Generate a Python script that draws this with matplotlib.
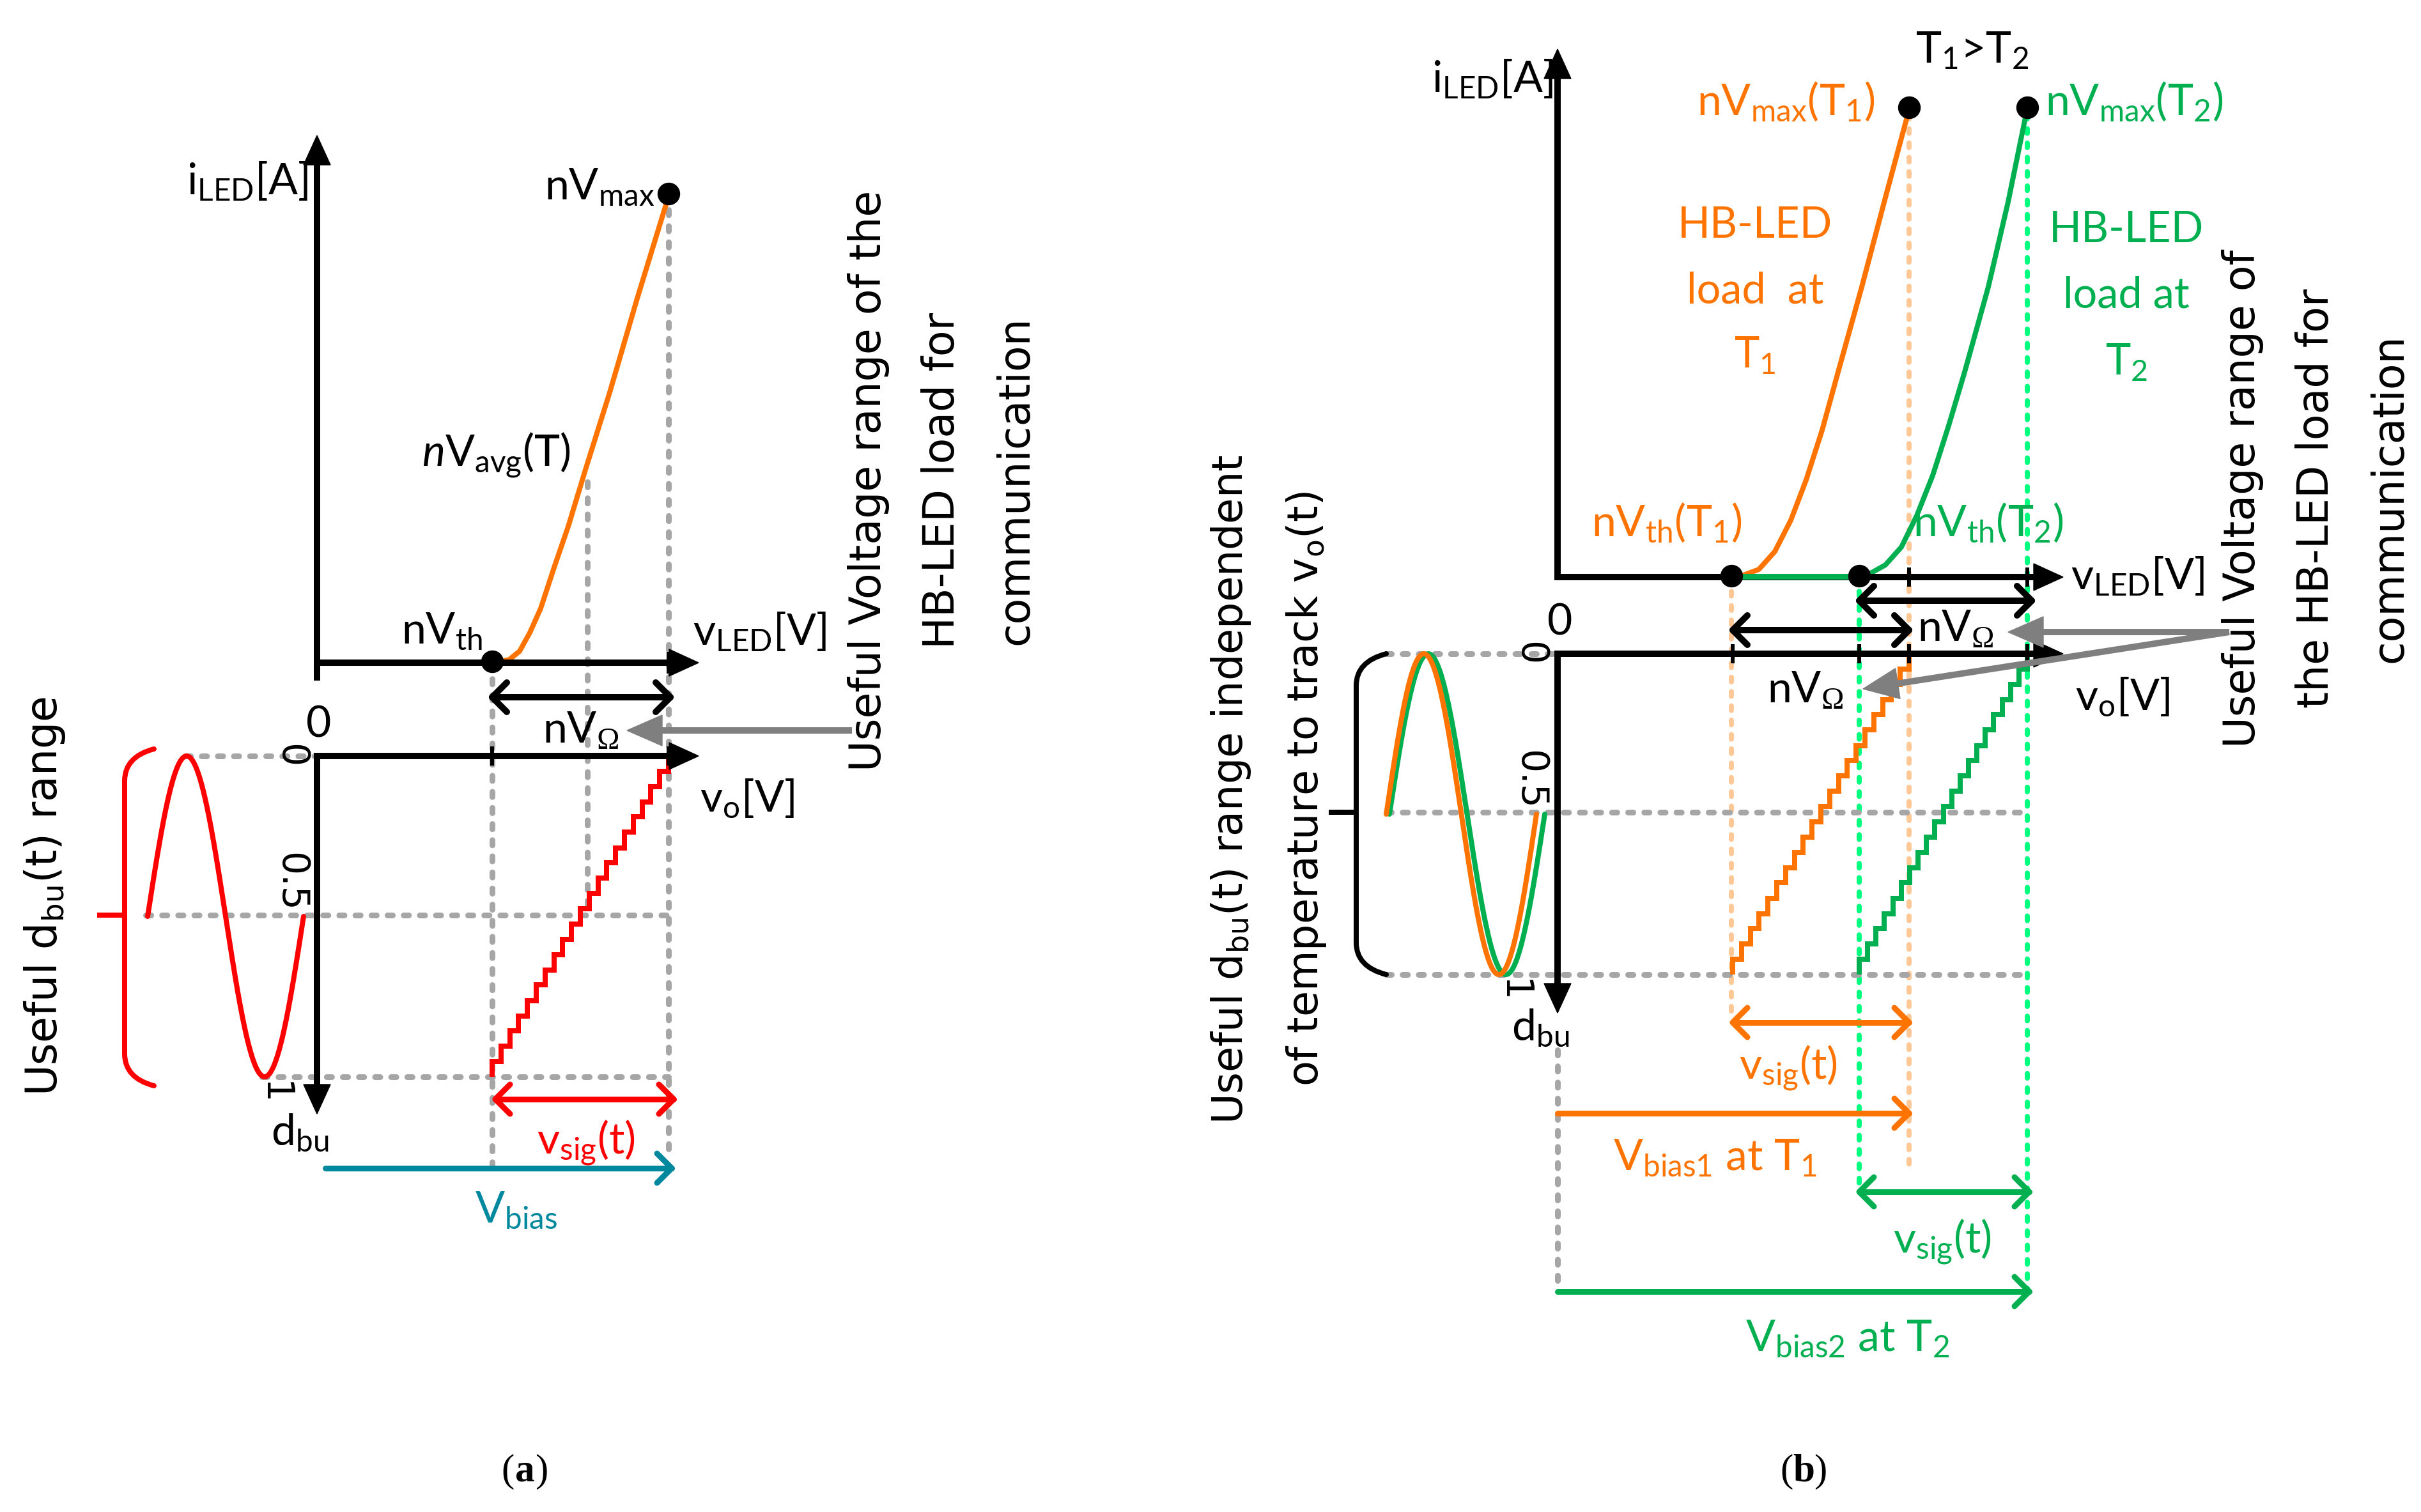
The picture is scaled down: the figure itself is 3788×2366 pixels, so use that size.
import numpy as np
import matplotlib
matplotlib.use("Agg")
import matplotlib.pyplot as plt
from matplotlib.path import Path
from matplotlib.patches import PathPatch, Polygon

plt.rcParams['mathtext.fontset'] = 'custom'
plt.rcParams['mathtext.rm'] = 'Lato'
plt.rcParams['mathtext.it'] = 'Lato:italic'
plt.rcParams['mathtext.bf'] = 'Lato:bold'
plt.rcParams['mathtext.sf'] = 'Liberation Serif'
plt.rcParams['mathtext.fallback'] = 'cm'

# ---------------- data (canvas pixel space 3788 x 2366) ----------------
# LED I-V characteristic, panel (a)
led_a_v = [770, 785, 797, 813, 829, 846, 867, 889, 916, 954, 997, 1043, 1046]
led_a_i = [1036, 1035, 1032, 1019, 990, 952, 888, 824, 735, 614, 467, 317, 303]
# LED I-V characteristics, panel (b)
led_t1_v = [2709, 2728, 2752, 2777, 2802, 2826, 2851, 2876, 2913, 2950, 2985, 2987]
led_t1_i = [901, 900, 891, 863, 814, 751, 673, 582, 449, 309, 179, 168]
led_t2_v = [2909, 2925, 2950, 2975, 2999, 3024, 3049, 3074, 3111, 3142, 3170, 3172]
led_t2_i = [901, 898, 884, 856, 807, 744, 666, 582, 449, 316, 179, 168]

# quantised duty-cycle staircase (dbu levels, 21 steps) and vo fractions
stair_dbu = [1.00, 0.952, 0.905, 0.857, 0.810, 0.762, 0.714, 0.667, 0.619, 0.571,
             0.524, 0.476, 0.429, 0.381, 0.333, 0.286, 0.238, 0.190, 0.143, 0.095,
             0.048, 0.00]
stair_vo = [0.00, 0.05, 0.10, 0.15, 0.20, 0.25, 0.30, 0.35, 0.40, 0.45, 0.50,
            0.55, 0.60, 0.65, 0.70, 0.75, 0.80, 0.85, 0.90, 0.95, 1.00]

dbu_ticks = [0, 0.5, 1]
dbu_tick_labels = ['0', '0.5', '1']

ORANGE = '#FF7300'
GREEN = '#00B050'
LGREEN = '#00FF7F'
LORANGE = '#FFC896'
GRAY = '#A6A6A6'
DGRAY = '#7F7F7F'
RED = '#FF0000'
TEAL = '#00889E'

PT = 0.72
DASH = (0, (0.9, 1.9))
LS = 49  # label font size
OMEGA = r'nV$_{\mathsf{\Omega}}$'

fig = plt.figure(figsize=(37.88, 23.66), dpi=100)
ax = fig.add_axes([0, 0, 1, 1])
ax.set_xlim(0, 3788)
ax.set_ylim(2366, 0)
ax.axis('off')


def seg(xs, ys, color, w=8, z=2, cap='round'):
    ax.plot(xs, ys, color=color, lw=w * PT, solid_capstyle=cap,
            solid_joinstyle='round', zorder=z)


def dashed(xs, ys, color=GRAY, w=9, z=1):
    ax.plot(xs, ys, color=color, lw=w * PT, ls=DASH, dash_capstyle='round', zorder=z)


def axis_arrow(x0, y0, x1, y1, color='black', w=10, L=46, W=21, z=3):
    d = np.array([x1 - x0, y1 - y0], float)
    d /= np.hypot(*d)
    n = np.array([-d[1], d[0]])
    tip = np.array([x1, y1], float)
    base = tip - L * d
    e = base + 0.3 * L * d
    seg([x0, e[0]], [y0, e[1]], color, w, z=z, cap='projecting')
    ax.add_patch(Polygon([tip, base + W * n, base - W * n], closed=True,
                         fc=color, ec=color, lw=1, zorder=z))


def chevron(x, y, dx, dy, color, w=9, a=23):
    d = np.array([dx, dy], float)
    d /= np.hypot(*d)
    n = np.array([-d[1], d[0]])
    p = np.array([x, y], float)
    p1 = p - a * d + a * n
    p2 = p - a * d - a * n
    ax.plot([p1[0], x, p2[0]], [p1[1], y, p2[1]], color=color, lw=w * PT,
            solid_capstyle='round', solid_joinstyle='round', zorder=4)


def harrow(x0, x1, y, color, both=True, w=9):
    seg([x0, x1], [y, y], color, w, z=4)
    chevron(x1, y, 1, 0, color, w)
    if both:
        chevron(x0, y, -1, 0, color, w)


def gray_arrow(x0, y0, x1, y1, w=10, L=55, W=24):
    d = np.array([x1 - x0, y1 - y0], float)
    d /= np.hypot(*d)
    n = np.array([-d[1], d[0]])
    tip = np.array([x1, y1], float)
    base = tip - L * d
    seg([x0, base[0] + 5 * d[0]], [y0, base[1] + 5 * d[1]], DGRAY, w, z=4, cap='butt')
    ax.add_patch(Polygon([tip, base + W * n, base - W * n], closed=True,
                         fc=DGRAY, ec=DGRAY, lw=1, zorder=4))


def dot(x, y):
    ax.plot([x], [y], 'o', color='black', ms=34 * PT, zorder=5)


def label(x, y, s, color='black', size=LS, ha='left', va='baseline', family='Lato', **kw):
    ax.text(x, y, s, color=color, fontsize=size, ha=ha, va=va, family=family,
            zorder=6, **kw)


def rot_text(x, y, s, size=48, ls=2.0):
    ax.text(x, y, s, rotation=90, ha='center', va='center', multialignment='center',
            fontsize=size, family='DejaVu Sans', linespacing=ls,
            math_fontfamily='dejavusans', zorder=6)


def ydbu(v, y0, y1):
    return y0 + np.asarray(v, float) * (y1 - y0)


def staircase(xa, xb, y0, y1, color, w=8):
    xs = [xa + f * (xb - xa) for f in stair_vo]
    ys = list(ydbu(stair_dbu, y0, y1))
    px, py = [xs[0]], [ys[0]]
    for i in range(1, len(ys)):
        px.append(xs[i - 1]); py.append(ys[i])
        if i < len(xs):
            px.append(xs[i]); py.append(ys[i])
    ax.plot(px, py, color=color, lw=w * PT, solid_joinstyle='miter',
            solid_capstyle='butt', zorder=2)


def sine(xa, xb, y0, y1, color, w=8):
    ph = np.linspace(0, 2 * np.pi, 300)
    dbu = 0.5 - 0.5 * np.sin(ph)
    xs = xa + (xb - xa) * ph / (2 * np.pi)
    seg(xs, ydbu(dbu, y0, y1), color, w, z=2)


def bracket(x, xe, ytop, ybot, ymid, color, w=8, tick=43):
    r = 50
    verts = [(xe, ytop), (x, ytop + 12), (x, ytop + r), (x, ybot - r), (x, ybot - 12), (xe, ybot)]
    codes = [Path.MOVETO, Path.CURVE3, Path.CURVE3, Path.LINETO, Path.CURVE3, Path.CURVE3]
    ax.add_patch(PathPatch(Path(verts, codes), fc='none', ec=color, lw=w * PT,
                           capstyle='round', zorder=2))
    seg([x - tick, x], [ymid, ymid], color, w, z=2, cap='butt')


def tick_labels(x, y0, y1):
    for v, t in zip(dbu_ticks, dbu_tick_labels):
        yy = ydbu(v, y0, y1)
        if t == '0.5':
            yy = yy - 54
        if t == '1':
            x2 = x - 27
            yy = yy + 26
        else:
            x2 = x
        ax.text(x2, yy, t, rotation=-90, ha='center', va='center', fontsize=42,
                family='DejaVu Sans', zorder=6)


# ======================= panel (a) =======================
A_Y0, A_Y1 = 1183, 1685
dashed([1046, 1046], [303, 1810])
dashed([770, 770], [1037, 1823])
dashed([919, 919], [754, 1432])
dashed([290, 496], [A_Y0, A_Y0])
dashed([228, 1046], [1432, 1432])
dashed([410, 1046], [A_Y1, A_Y1])

seg(led_a_v, led_a_i, ORANGE, 8)
axis_arrow(496, 1060, 496, 212)
axis_arrow(496, 1037, 1093, 1037)
seg([1046, 1046], [1020, 1054], 'black', 6, z=3, cap='butt')
dot(770, 1035)
dot(1046, 303)
harrow(770, 1049, 1091, 'black', w=10)
gray_arrow(1333, 1143, 981, 1143)

axis_arrow(496, 1183, 1093, 1183)
axis_arrow(496, 1183, 496, 1743)
for xt in (770, 1046):
    seg([xt, xt], [1168, 1198], 'black', 6, z=3, cap='butt')

sine(231, 475, A_Y0, A_Y1, RED)
bracket(195, 241, 1172, 1699, 1432, RED)
staircase(770, 1046, A_Y0, A_Y1, RED)
harrow(775, 1054, 1720, RED)
harrow(509, 1051, 1828, TEAL, both=False)

label(482, 304, r'i$_{\mathrm{LED}}$[A]', ha='right')
label(1025, 311, r'nV$_{\mathrm{max}}$', ha='right')
label(660, 729, r'$\mathit{n}$V$_{\mathrm{avg}}$(T)')
label(628, 1006, r'nV$_{\mathrm{th}}$')
label(1084, 1009, r'v$_{\mathrm{LED}}$[V]')
label(499, 1153, '0', ha='center')
label(849, 1162, OMEGA)
label(1095, 1270, r'v$_{\mathrm{o}}$[V]')
label(424, 1791, r'd$_{\mathrm{bu}}$')
label(840, 1805, r'v$_{\mathrm{sig}}$(t)', color=RED)
label(743, 1912, r'V$_{\mathrm{bias}}$', color=TEAL)
tick_labels(455, A_Y0, A_Y1)

rot_text(1474, 752, 'Useful Voltage range of the\nHB-LED load for\ncommunication', ls=1.95)
rot_text(70, 1402, r'Useful d$_{\mathrm{bu}}$(t) range')

# ======================= panel (b) =======================
B_Y0, B_Y1 = 1023, 1525
dashed([2709, 2709], [903, 1585], LORANGE, 8)
dashed([2987, 2987], [179, 1830], LORANGE, 8)
dashed([2909, 2909], [903, 1865], LGREEN, 8)
dashed([3172, 3172], [179, 2021], LGREEN, 8)
dashed([2169, 2437], [B_Y0, B_Y0])
dashed([2169, 3172], [1271, 1271])
dashed([2169, 3172], [B_Y1, B_Y1])
dashed([2437, 2437], [1643, 2018])

seg(led_t1_v, led_t1_i, ORANGE, 8)
seg(led_t2_v, led_t2_i, GREEN, 8)
axis_arrow(2437, 903, 2437, 77)
axis_arrow(2437, 903, 3228, 903)
seg([2709, 2909], [902, 902], GREEN, 9, z=3, cap='butt')
for xt in (2987, 3172):
    seg([xt, xt], [888, 918], 'black', 6, z=3, cap='butt')
dot(2709, 901)
dot(2909, 901)
dot(2987, 168)
dot(3172, 168)
harrow(2909, 3179, 940, 'black', w=10)
harrow(2711, 2987, 986, 'black', w=10)
gray_arrow(3488, 989, 3142, 989)
gray_arrow(3488, 989, 2915, 1078)

axis_arrow(2437, 1023, 3228, 1023)
axis_arrow(2437, 1023, 2437, 1585)
for xt in (2711, 2909, 2987, 3172):
    seg([xt, xt], [1008, 1038], 'black', 6, z=3, cap='butt')

sine(2174, 2417, B_Y0, B_Y1, GREEN)
sine(2169, 2404, B_Y0, B_Y1, ORANGE)
bracket(2122, 2169, 1023, 1525, 1271, 'black')
staircase(2711, 2987, B_Y0, B_Y1, ORANGE)
staircase(2909, 3172, B_Y0, B_Y1, GREEN)
harrow(2711, 2987, 1600, ORANGE)
harrow(2437, 2987, 1742, ORANGE, both=False)
harrow(2909, 3175, 1865, GREEN)
harrow(2437, 3175, 2021, GREEN, both=False)

label(2430, 144, r'i$_{\mathrm{LED}}$[A]', ha='right')
label(3086, 98, r'T$_{1}$>T$_{2}$', ha='center')
label(2655, 179, r'nV$_{\mathrm{max}}$(T$_{1}$)', color=ORANGE)
label(3200, 179, r'nV$_{\mathrm{max}}$(T$_{2}$)', color=GREEN)
for yb, s in zip((372, 474, 575), ('HB-LED', 'load  at', r'T$_{1}$')):
    label(2746, yb, s, color=ORANGE, size=48, ha='center')
for yb, s in zip((379, 481, 586), ('HB-LED', 'load at', r'T$_{2}$')):
    label(3327, yb, s, color=GREEN, size=48, ha='center')
label(2490, 838, r'nV$_{\mathrm{th}}$(T$_{1}$)', color=ORANGE)
label(2993, 838, r'nV$_{\mathrm{th}}$(T$_{2}$)', color=GREEN)
label(3240, 922, r'v$_{\mathrm{LED}}$[V]')
label(2441, 993, '0', ha='center')
label(3000, 1003, OMEGA)
label(2765, 1099, OMEGA)
label(3247, 1111, r'v$_{\mathrm{o}}$[V]')
label(2365, 1627, r'd$_{\mathrm{bu}}$')
label(2721, 1688, r'v$_{\mathrm{sig}}$(t)', color=ORANGE)
label(2524, 1830, r'V$_{\mathrm{bias1}}$ at T$_{1}$', color=ORANGE)
label(2962, 1960, r'v$_{\mathrm{sig}}$(t)', color=GREEN)
label(2731, 2113, r'V$_{\mathrm{bias2}}$ at T$_{2}$', color=GREEN)
tick_labels(2394, B_Y0, B_Y1)

rot_text(1985, 1235, 'Useful d$_{\\mathrm{bu}}$(t) range independent\n'
         'of temperature to track v$_{\\mathrm{o}}$(t)', size=47, ls=1.98)
rot_text(3624, 780, 'Useful Voltage range of\nthe HB-LED load for\ncommunication', ls=1.95)

# captions
for cx, letter in ((821, 'a'), (2822, 'b')):
    ax.text(cx - 16, 2318, '(', ha='right', va='baseline', fontsize=44,
            family='Liberation Serif', zorder=6)
    ax.text(cx, 2318, letter, ha='center', va='baseline', fontsize=44,
            family='Liberation Serif', fontweight='bold', zorder=6)
    ax.text(cx + 16, 2318, ')', ha='left', va='baseline', fontsize=44,
            family='Liberation Serif', zorder=6)

fig.savefig('out.png', dpi=100, facecolor='white')
